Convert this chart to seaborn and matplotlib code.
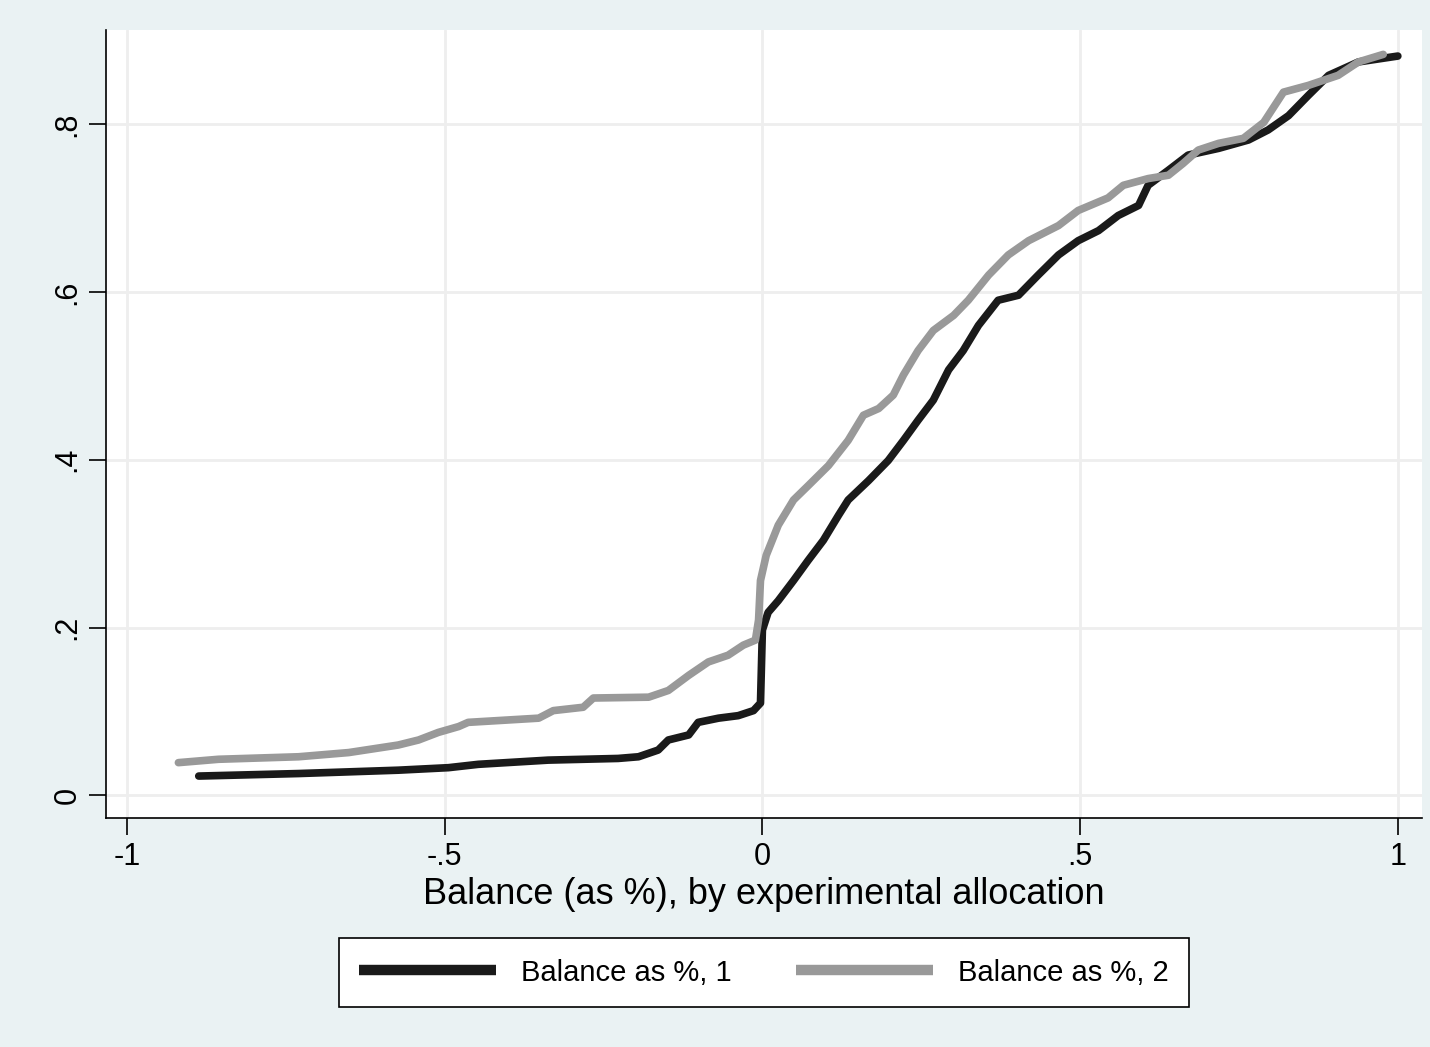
import numpy as np
import pandas as pd
import matplotlib
matplotlib.use("Agg")
import matplotlib.pyplot as plt
import seaborn as sns
from matplotlib.lines import Line2D

# Series 1 (black)
x1 = [-0.887, -0.730, -0.573, -0.494, -0.447, -0.337, -0.227, -0.195, -0.164, -0.148,
      -0.116, -0.101, -0.069, -0.038, -0.014, -0.003, 0.0, 0.009, 0.025, 0.049,
      0.072, 0.096, 0.120, 0.135, 0.167, 0.198, 0.222, 0.245, 0.269, 0.293,
      0.316, 0.340, 0.371, 0.403, 0.434, 0.466, 0.497, 0.529, 0.560, 0.592,
      0.607, 0.639, 0.670, 0.718, 0.765, 0.796, 0.828, 0.859, 0.891, 0.938, 1.0]
y1 = [0.023, 0.026, 0.030, 0.033, 0.037, 0.042, 0.044, 0.046, 0.054, 0.066,
      0.072, 0.087, 0.092, 0.095, 0.101, 0.110, 0.197, 0.218, 0.232, 0.256,
      0.280, 0.304, 0.334, 0.352, 0.375, 0.399, 0.423, 0.447, 0.471, 0.507,
      0.530, 0.560, 0.590, 0.596, 0.620, 0.644, 0.661, 0.673, 0.691, 0.703,
      0.727, 0.745, 0.763, 0.771, 0.781, 0.793, 0.810, 0.834, 0.858, 0.874, 0.881]

# Series 2 (gray)
x2 = [-0.919, -0.856, -0.730, -0.651, -0.573, -0.541, -0.510, -0.478, -0.463, -0.352,
      -0.329, -0.282, -0.266, -0.179, -0.148, -0.116, -0.085, -0.054, -0.030, -0.011,
      -0.006, -0.003, 0.006, 0.025, 0.049, 0.072, 0.104, 0.135, 0.159, 0.183,
      0.206, 0.222, 0.245, 0.269, 0.301, 0.324, 0.356, 0.387, 0.419, 0.466,
      0.497, 0.544, 0.568, 0.607, 0.639, 0.662, 0.686, 0.718, 0.757, 0.789,
      0.820, 0.859, 0.906, 0.938, 0.977]
y2 = [0.039, 0.043, 0.046, 0.051, 0.060, 0.066, 0.075, 0.082, 0.087, 0.092,
      0.101, 0.105, 0.116, 0.117, 0.125, 0.143, 0.159, 0.167, 0.179, 0.185,
      0.209, 0.256, 0.286, 0.322, 0.352, 0.369, 0.393, 0.423, 0.453, 0.461,
      0.477, 0.501, 0.530, 0.554, 0.572, 0.590, 0.620, 0.644, 0.661, 0.679,
      0.697, 0.712, 0.727, 0.735, 0.739, 0.753, 0.769, 0.777, 0.783, 0.802,
      0.838, 0.846, 0.858, 0.874, 0.883]

labels = ["Balance as %, 1", "Balance as %, 2"]
x_ticks = [-1, -0.5, 0, 0.5, 1]
x_ticklabels = ["-1", "-.5", "0", ".5", "1"]
y_ticks = [0, 0.2, 0.4, 0.6, 0.8]
y_ticklabels = ["0", ".2", ".4", ".6", ".8"]

df = pd.concat([
    pd.DataFrame({"x": x1, "y": y1, "series": labels[0]}),
    pd.DataFrame({"x": x2, "y": y2, "series": labels[1]}),
])

sns.set_style("white")
plt.rcParams["font.family"] = ["Liberation Sans", "DejaVu Sans"]
plt.rcParams["text.color"] = "black"
plt.rcParams["xtick.color"] = "black"
plt.rcParams["ytick.color"] = "black"
plt.rcParams["axes.labelcolor"] = "black"

bg = "#EAF2F3"
c1, c2 = "#1a1a1a", "#999999"
fig = plt.figure(figsize=(14.3, 10.47), dpi=100, facecolor=bg)
ax = fig.add_axes([0.0741, 0.2187, 0.9203, 0.7526])
ax.set_facecolor("white")

sns.lineplot(data=df, x="x", y="y", hue="series", sort=False,
             palette={labels[0]: c1, labels[1]: c2},
             linewidth=5.5, ax=ax, legend=False, estimator=None)

ax.set_xlim(-1.033, 1.038)
ax.set_ylim(-0.027, 0.912)
ax.set_xticks(x_ticks)
ax.set_xticklabels(x_ticklabels, fontsize=22, color="black")
ax.set_yticks(y_ticks)
ax.set_yticklabels(y_ticklabels, fontsize=22, rotation=90, va="center", color="black")
ax.grid(True, color="#EEEEEE", linewidth=2)
ax.set_axisbelow(True)
ax.tick_params(axis="both", direction="out", length=12, width=1.2, color="black",
               bottom=True, left=True, pad=5)
for s in ["top", "right"]:
    ax.spines[s].set_visible(False)
for s in ["left", "bottom"]:
    ax.spines[s].set_color("black")
    ax.spines[s].set_linewidth(1.2)

ax.set_xlabel("Balance (as %), by experimental allocation", fontsize=26,
              labelpad=4, color="black")
ax.set_ylabel("")

handles = [Line2D([0], [0], color=c1, lw=7.5, solid_capstyle="butt"),
           Line2D([0], [0], color=c2, lw=7.5, solid_capstyle="butt")]
leg = fig.legend(handles, labels, loc="center", bbox_to_anchor=(0.534, 0.071),
                 ncol=2, fontsize=21, frameon=True, fancybox=False,
                 handlelength=4.7, columnspacing=2.2, handletextpad=0.85,
                 borderpad=0.7, edgecolor="black", facecolor="white",
                 framealpha=1, labelcolor="black")
leg.get_frame().set_linewidth(1.2)

fig.savefig("out.png", dpi=100, facecolor=bg)
